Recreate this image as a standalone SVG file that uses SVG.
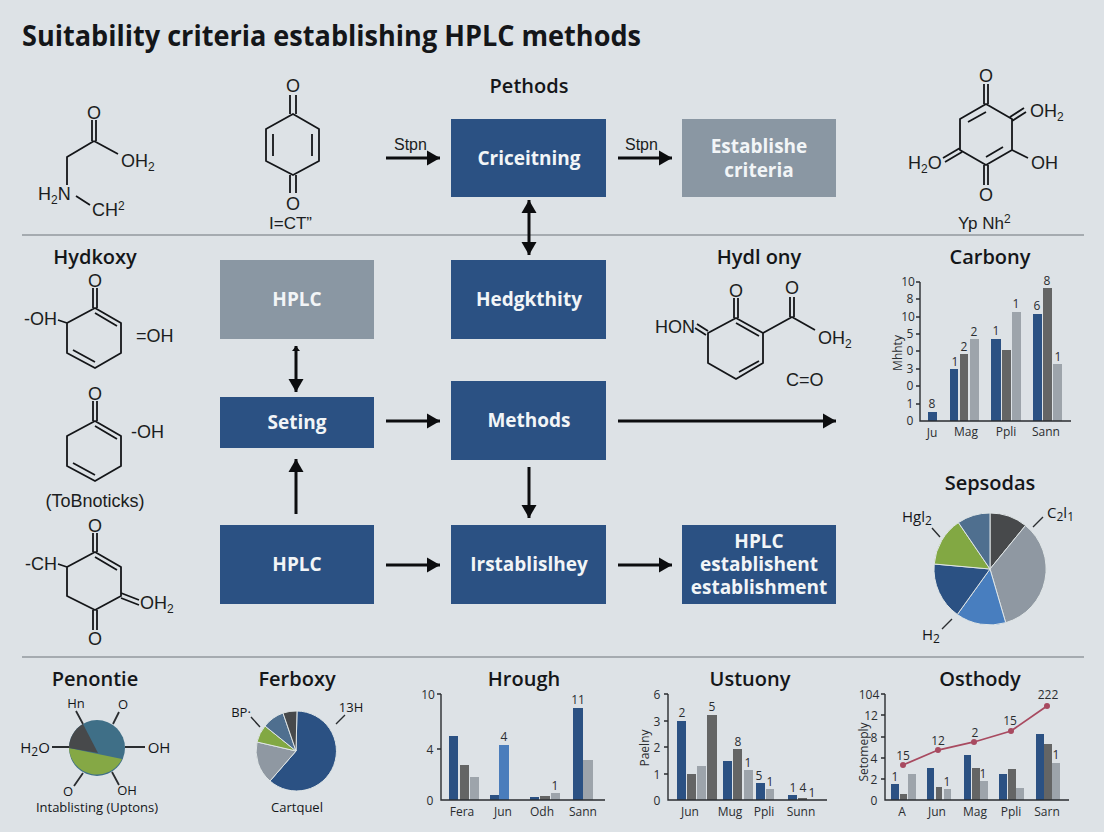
<svg xmlns="http://www.w3.org/2000/svg" width="1104" height="832" viewBox="0 0 1104 832">
<style>
text{font-family:"Open Sans","Noto Sans","Liberation Sans",sans-serif;fill:#141619}
.t{font-size:29px;font-weight:700}
.h{font-size:20px;font-weight:600;text-anchor:middle}
.b{font-size:19px;font-weight:700;fill:#f2f5f7;text-anchor:middle}
.m{font-size:18px;font-family:"Liberation Sans","Open Sans",sans-serif;fill:#1b1d20}
.mc{text-anchor:middle}
.s{font-size:12px}
.l{font-size:15px;font-weight:500}
.a{font-size:12px;text-anchor:middle;fill:#2a2d30}
.bond{fill:none;stroke:#141619;stroke-width:1.8;stroke-linejoin:round}
.ax{fill:none;stroke:#2a2d30;stroke-width:1.4}
.con{fill:none;stroke:#0c0d0f;stroke-width:3}
.blue{fill:#2b5183}.lb{fill:#4a7dbc}.dg{fill:#646565}.lg{fill:#9da4ab}.gb{fill:#8a97a3}
.sl{stroke:#dfe5e6;stroke-width:1}
</style>
<defs>
<marker id="head" markerUnits="userSpaceOnUse" markerWidth="14" markerHeight="16" refX="13" refY="8" orient="auto-start-reverse"><path d="M0 0.5L13 8L0 15.5Z" fill="#0c0d0f"/></marker>
<marker id="tiny" markerUnits="userSpaceOnUse" markerWidth="8" markerHeight="10" refX="5" refY="4" orient="auto-start-reverse"><path d="M0 0L5 4L0 8Z" fill="#0c0d0f"/></marker>
</defs>
<rect width="1104" height="832" fill="#dde2e6"/>
<text class="t" x="22" y="46" textLength="619" lengthAdjust="spacingAndGlyphs">Suitability criteria establishing HPLC methods</text>
<path d="M22 235H1084M22 657H1084" stroke="#93999e" stroke-width="1.5" fill="none"/>
<text class="h" x="529" y="93">Pethods</text>

<g id="connectors">
<path class="con" marker-end="url(#head)" d="M386 158H440"/>
<path class="con" marker-end="url(#head)" d="M618 158H672"/>
<path class="con" marker-start="url(#head)" marker-end="url(#head)" d="M529 200V255"/>
<path class="con" marker-start="url(#tiny)" marker-end="url(#head)" d="M296 346V392"/>
<path class="con" marker-end="url(#head)" d="M386 421H440"/>
<path class="con" marker-end="url(#head)" d="M618 421H836"/>
<path class="con" marker-end="url(#head)" d="M529 467V518"/>
<path class="con" marker-end="url(#head)" d="M296 514V459"/>
<path class="con" marker-end="url(#head)" d="M386 565H440"/>
<path class="con" marker-end="url(#head)" d="M618 565H672"/>
<text class="m" x="394" y="150" style="font-size:16px">Stpn</text>
<text class="m" x="625" y="150" style="font-size:16px">Stpn</text>
</g>

<g id="box-criteitning"><rect class="blue" x="451" y="119" width="155" height="78"/><text class="b" x="529" y="165">Criceitning</text></g>
<g id="box-establishe"><rect class="gb" x="682" y="119" width="154" height="78"/><text class="b" x="759" y="153">Establishe</text><text class="b" x="759" y="177">criteria</text></g>
<g id="box-hplc-top"><rect class="gb" x="220" y="260" width="154" height="79"/><text class="b" x="297" y="306">HPLC</text></g>
<g id="box-hedgkthity"><rect class="blue" x="451" y="260" width="155" height="79"/><text class="b" x="529" y="306">Hedgkthity</text></g>
<g id="box-seting"><rect class="blue" x="220" y="397" width="154" height="51"/><text class="b" x="297" y="429">Seting</text></g>
<g id="box-methods"><rect class="blue" x="451" y="381" width="155" height="79"/><text class="b" x="529" y="427">Methods</text></g>
<g id="box-hplc-bottom"><rect class="blue" x="220" y="525" width="154" height="79"/><text class="b" x="297" y="571">HPLC</text></g>
<g id="box-irstablislhey"><rect class="blue" x="451" y="525" width="155" height="79"/><text class="b" x="529" y="571">Irstablislhey</text></g>
<g id="box-establishent"><rect class="blue" x="682" y="525" width="154" height="79"/><text class="b" x="759" y="548">HPLC</text><text class="b" x="759" y="571">establishent</text><text class="b" x="759" y="594">establishment</text></g>

<g id="mol-1">
<path class="bond" d="M92 120V141M96 120V141M94 141L67 157V185M94 141L118 154M76 196L90 205"/>
<text class="m mc" x="94" y="119">O</text>
<text class="m" x="121" y="167">OH<tspan class="s" dy="4">2</tspan></text>
<text class="m" x="38" y="200">H<tspan class="s" dy="4">2</tspan><tspan dy="-4">N</tspan></text>
<text class="m" x="92" y="216">CH<tspan class="s" dy="-6">2</tspan></text>
</g>
<g id="mol-2">
<path class="bond" d="M293 114L319 129V161L293 175L266 161V129ZM273 134V156M312 134V156M290 95V114M296 95V114M290 175V193M296 175V193"/>
<text class="m mc" x="293" y="92">O</text>
<text class="m mc" x="293" y="210">O</text>
<text class="m" x="269" y="229" style="font-size:17px">I=CT”</text>
</g>
<g id="mol-3">
<path class="bond" d="M986 104L1012 119V150L986 165L960 150V119ZM968 122L986 112M1003 147L986 157M984 84V104M988 84V104M984 165V185M988 165V185M1012 121L1026 112M1010 117L1024 108M1012 150L1028 158M960 148L943 158M962 152L945 162"/>
<text class="m mc" x="986" y="82">O</text>
<text class="m mc" x="986" y="201">O</text>
<text class="m" x="1030" y="117">OH<tspan class="s" dy="4">2</tspan></text>
<text class="m" x="1031" y="169">OH</text>
<text class="m" x="908" y="169">H<tspan class="s" dy="4">2</tspan><tspan dy="-4">O</tspan></text>
<text class="m" x="958" y="229" style="font-size:17px">Yp Nh<tspan class="s" dy="-6">2</tspan></text>
</g>
<g id="mol-4">
<text class="h" x="95" y="264">Hydkoxy</text>
<path class="bond" d="M95 308L121 323V353L95 368L67 353V323ZM95 313L117 326M73 350L95 362M93 288V308M97 288V308M58 320L67 323"/>
<text class="m mc" x="95" y="287">O</text>
<text class="m" x="24" y="325">-OH</text>
<text class="m" x="136" y="342">=OH</text>
</g>
<g id="mol-5">
<path class="bond" d="M95 421L121 436V466L95 481L67 466V436ZM95 426L117 439M73 463L95 475M93 401V421M97 401V421"/>
<text class="m mc" x="95" y="400">O</text>
<text class="m" x="131" y="438">-OH</text>
<text class="m mc" x="95" y="507">(ToBnoticks)</text>
</g>
<g id="mol-6">
<path class="bond" d="M95 552L121 567V596L95 610L67 596V567ZM95 557L117 570M93 533V552M97 533V552M93 610V630M97 610V630M58 564L67 567M121 593L139 600M121 598L139 605"/>
<text class="m mc" x="95" y="532">O</text>
<text class="m mc" x="95" y="645">O</text>
<text class="m" x="25" y="570">-CH</text>
<text class="m" x="140" y="609">OH<tspan class="s" dy="4">2</tspan></text>
</g>
<g id="mol-7">
<text class="h" x="759" y="264">Hydl ony</text>
<path class="bond" d="M736 318L763 333V363L736 379L708 363V333ZM736 323L759 336M759 361L739 372M734 298V318M738 298V318M763 333L792 317L815 330M790 297V317M794 297V317M708 331L697 324M706 335L695 328"/>
<text class="m mc" x="736" y="297">O</text>
<text class="m mc" x="792" y="294">O</text>
<text class="m" x="655" y="333">HON</text>
<text class="m" x="818" y="344">OH<tspan class="s" dy="4">2</tspan></text>
<text class="m" x="786" y="386">C=O</text>
</g>

<g id="chart-carbony">
<text class="h" x="990" y="264">Carbony</text>
<rect class="blue" x="928" y="412" width="9" height="9"/>
<rect class="blue" x="950" y="369" width="8" height="52"/><rect class="dg" x="960" y="354" width="8" height="67"/><rect class="lg" x="970" y="339" width="9" height="82"/>
<rect class="blue" x="991" y="339" width="10" height="82"/><rect class="dg" x="1002" y="350" width="9" height="71"/><rect class="lg" x="1012" y="312" width="9" height="109"/>
<rect class="blue" x="1033" y="314" width="9" height="107"/><rect class="dg" x="1043" y="288" width="9" height="133"/><rect class="lg" x="1053" y="364" width="9" height="57"/>
<path class="ax" d="M920 282V421H1071M916 282H920M916 299H920M916 317H920M916 334H920M916 351H920M916 369H920M916 386H920M916 404H920"/>
<text class="a" x="908" y="286">10</text><text class="a" x="910" y="303">8</text><text class="a" x="908" y="321">10</text><text class="a" x="910" y="338">5</text><text class="a" x="910" y="355">0</text><text class="a" x="910" y="373">3</text><text class="a" x="910" y="390">0</text><text class="a" x="910" y="408">1</text><text class="a" x="910" y="425">0</text>
<text class="a" x="932" y="408">8</text><text class="a" x="955" y="366">1</text><text class="a" x="964" y="351">2</text><text class="a" x="974" y="336">2</text><text class="a" x="996" y="335">1</text><text class="a" x="1016" y="308">1</text><text class="a" x="1037" y="310">6</text><text class="a" x="1047" y="285">8</text><text class="a" x="1058" y="361">1</text>
<text class="a" x="932" y="437">Ju</text><text class="a" x="966" y="436">Mag</text><text class="a" x="1006" y="436">Ppli</text><text class="a" x="1046" y="436">Sann</text>
<text class="a" transform="translate(902 353) rotate(-90)">Mhhty</text>
</g>

<g id="chart-sepsodas">
<text class="h" x="990" y="490">Sepsodas</text>
<path class="sl" fill="#47494b" d="M990 569L990 513A56 56 0 0 1 1025.5 525.5Z"/>
<path class="sl" fill="#8f98a2" d="M990 569L1025.5 525.5A56 56 0 0 1 1005.7 622.7Z"/>
<path class="sl" fill="#487ebf" d="M990 569L1005.7 622.7A56 56 0 0 1 957.3 614.5Z"/>
<path class="sl" fill="#2b5183" d="M990 569L957.3 614.5A56 56 0 0 1 934.2 564Z"/>
<path class="sl" fill="#82a843" d="M990 569L934.2 564A56 56 0 0 1 958.4 522.6Z"/>
<path class="sl" fill="#4f6f8f" d="M990 569L958.4 522.6A56 56 0 0 1 990 513Z"/>
<path class="ax" d="M932 528L940 537M1043 517L1033 527M952 619L942 629"/>
<text class="l" x="902" y="522">Hgl<tspan class="s" dy="3">2</tspan></text>
<text class="l" x="1047" y="518">C<tspan class="s" dy="3">2</tspan><tspan dy="-3">l</tspan><tspan class="s" dy="3">1</tspan></text>
<text class="l" x="922" y="640">H<tspan class="s" dy="3">2</tspan></text>
</g>

<g id="chart-penontie">
<text class="h" x="95" y="686">Penontie</text>
<circle cx="97" cy="748" r="28" fill="#3f6f87"/>
<path fill="#85a845" d="M69 748L122 759A28 28 0 0 1 69 748Z"/>
<path fill="#47494b" d="M83 724A28 28 0 0 0 69 748L98 753Z"/>
<path class="ax" style="stroke-width:1.8" d="M76 711L83 724M119 712L113 724M52 747H69M125 747H145M83 773L74 786M112 772L119 785"/>
<text class="l" style="font-size:13px;text-anchor:middle" x="76" y="708">Hn</text>
<text class="l" style="font-size:13px;text-anchor:middle" x="123" y="709">O</text>
<text class="l" style="text-anchor:middle" x="35" y="753">H<tspan class="s" dy="3">2</tspan><tspan dy="-3">O</tspan></text>
<text class="l" style="text-anchor:middle" x="159" y="753">OH</text>
<text class="l" style="font-size:13px;text-anchor:middle" x="68" y="796">O</text>
<text class="l" style="font-size:13px;text-anchor:middle" x="127" y="795">OH</text>
<text class="l" style="font-size:13px;text-anchor:middle" x="97" y="812">Intablisting (Uptons)</text>
</g>

<g id="chart-ferboxy">
<text class="h" x="297" y="686">Ferboxy</text>
<path class="sl" fill="#2b5183" d="M296 751L297 711A40 40 0 1 1 270 781Z"/>
<path class="sl" fill="#8f98a2" d="M296 751L270 781A40 40 0 0 1 257 742Z"/>
<path class="sl" fill="#82a843" d="M296 751L257 742A40 40 0 0 1 265 726Z"/>
<path class="sl" fill="#4f6f8f" d="M296 751L265 726A40 40 0 0 1 283 713Z"/>
<path class="sl" fill="#47494b" d="M296 751L283 713A40 40 0 0 1 297 711Z"/>
<path class="ax" d="M251 717L260 727M345 715L336 724"/>
<text class="l" style="font-size:13px;text-anchor:middle" x="241" y="717">BP·</text>
<text class="l" style="font-size:13px;text-anchor:middle" x="351" y="712">13H</text>
<text class="l" style="font-size:13px;text-anchor:middle" x="297" y="812">Cartquel</text>
</g>

<g id="chart-hrough">
<text class="h" x="524" y="686">Hrough</text>
<rect class="blue" x="449" y="736" width="9" height="64"/><rect class="dg" x="460" y="765" width="9" height="35"/><rect class="lg" x="470" y="777" width="9" height="23"/>
<rect class="blue" x="490" y="795" width="9" height="5"/><rect class="lb" x="499" y="745" width="10" height="55"/>
<rect class="blue" x="530" y="797" width="9" height="3"/><rect class="dg" x="540" y="796" width="10" height="4"/><rect class="lg" x="551" y="793" width="9" height="7"/>
<rect class="blue" x="573" y="708" width="10" height="92"/><rect class="lg" x="583" y="760" width="10" height="40"/>
<path class="ax" d="M441 694V800H605M437 694H441M437 749H441"/>
<text class="a" x="428" y="699">10</text><text class="a" x="430" y="754">4</text><text class="a" x="430" y="805">0</text>
<text class="a" x="504" y="741">4</text><text class="a" x="555" y="790">1</text><text class="a" x="578" y="704">11</text>
<text class="a" x="462" y="816">Fera</text><text class="a" x="503" y="816">Jun</text><text class="a" x="542" y="816">Odh</text><text class="a" x="583" y="816">Sann</text>
</g>

<g id="chart-ustuony">
<text class="h" x="750" y="686">Ustuony</text>
<rect class="blue" x="677" y="721" width="9" height="79"/><rect class="dg" x="687" y="774" width="9" height="26"/><rect class="lg" x="697" y="766" width="9" height="34"/><rect class="dg" x="707" y="715" width="10" height="85"/>
<rect class="blue" x="723" y="761" width="9" height="39"/><rect class="dg" x="733" y="749" width="9" height="51"/><rect class="lg" x="744" y="770" width="9" height="30"/>
<rect class="blue" x="756" y="783" width="9" height="17"/><rect class="lg" x="766" y="789" width="8" height="11"/>
<rect class="blue" x="788" y="795" width="9" height="5"/><rect class="dg" x="798" y="798" width="9" height="2"/>
<path class="ax" d="M668 694V800H827M664 694H668M664 721H668M664 747H668M664 774H668"/>
<text class="a" x="657" y="699">6</text><text class="a" x="657" y="726">3</text><text class="a" x="657" y="752">2</text><text class="a" x="657" y="779">1</text><text class="a" x="657" y="805">0</text>
<text class="a" x="682" y="717">2</text><text class="a" x="712" y="711">5</text><text class="a" x="738" y="746">8</text><text class="a" x="748" y="767">1</text><text class="a" x="759" y="780">5</text><text class="a" x="770" y="786">1</text><text class="a" x="793" y="792">1</text><text class="a" x="803" y="792">4</text><text class="a" x="812" y="797">1</text>
<text class="a" x="690" y="816">Jun</text><text class="a" x="730" y="816">Mug</text><text class="a" x="764" y="816">Ppli</text><text class="a" x="801" y="816">Sunn</text>
<text class="a" transform="translate(649 748) rotate(-90)">Paelny</text>
</g>

<g id="chart-osthody">
<text class="h" x="980" y="686">Osthody</text>
<rect class="blue" x="891" y="784" width="8" height="16"/><rect class="dg" x="900" y="794" width="7" height="6"/><rect class="lg" x="908" y="774" width="8" height="26"/>
<rect class="blue" x="927" y="768" width="7" height="32"/><rect class="dg" x="936" y="787" width="6" height="13"/><rect class="lg" x="944" y="789" width="7" height="11"/>
<rect class="blue" x="964" y="755" width="7" height="45"/><rect class="dg" x="972" y="768" width="8" height="32"/><rect class="lg" x="980" y="781" width="8" height="19"/>
<rect class="blue" x="999" y="774" width="8" height="26"/><rect class="dg" x="1008" y="769" width="8" height="31"/><rect class="lg" x="1016" y="788" width="8" height="12"/>
<rect class="blue" x="1036" y="734" width="8" height="66"/><rect class="dg" x="1044" y="744" width="8" height="56"/><rect class="lg" x="1052" y="763" width="8" height="37"/>
<path class="ax" d="M885 694V800H1069M881 694H885M881 715H885M881 737H885M881 758H885M881 779H885"/>
<path fill="none" stroke="#a84a60" stroke-width="1.8" d="M903 765L938 750L974 742L1011 731L1047 706"/>
<g fill="#a84a60"><circle cx="903" cy="765" r="3"/><circle cx="938" cy="750" r="3"/><circle cx="974" cy="742" r="3"/><circle cx="1011" cy="731" r="3"/><circle cx="1047" cy="706" r="3"/></g>
<text class="a" x="869" y="699">104</text><text class="a" x="871" y="720">12</text><text class="a" x="874" y="742">8</text><text class="a" x="874" y="763">4</text><text class="a" x="874" y="784">2</text><text class="a" x="874" y="805">0</text>
<text class="a" x="903" y="760">15</text><text class="a" x="938" y="745">12</text><text class="a" x="975" y="737">2</text><text class="a" x="1010" y="725">15</text><text class="a" x="1048" y="699">222</text>
<text class="a" x="895" y="781">1</text><text class="a" x="947" y="786">1</text><text class="a" x="983" y="778">1</text><text class="a" x="1056" y="759">1</text>
<text class="a" x="902" y="816">A</text><text class="a" x="937" y="816">Jun</text><text class="a" x="975" y="816">Mag</text><text class="a" x="1011" y="816">Ppli</text><text class="a" x="1047" y="816">Sarn</text>
<text class="a" transform="translate(868 752) rotate(-90)">Setomeply</text>
</g>
</svg>
